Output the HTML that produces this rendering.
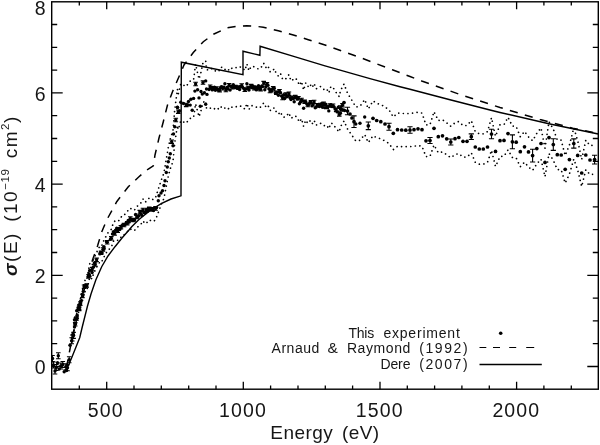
<!DOCTYPE html>
<html><head><meta charset="utf-8"><title>chart</title>
<style>
html,body{margin:0;padding:0;background:#fff}
body{width:600px;height:445px;position:relative;overflow:hidden;font-family:"Liberation Sans",sans-serif;color:#161616}
.t{position:absolute;font-size:19.5px;line-height:22px;white-space:nowrap;letter-spacing:1.1px}
.xl{text-align:center}
.yl{text-align:right}
.lg{position:absolute;font-size:14px;line-height:16px;white-space:nowrap}
.xt{position:absolute;left:225px;width:200px;text-align:center;top:421.5px;font-size:19px;line-height:22px;letter-spacing:0.45px;word-spacing:3px;white-space:nowrap}
.yt{position:absolute;left:0.2px;top:275.5px;height:22px;font-size:19px;line-height:22px;letter-spacing:1.5px;word-spacing:3.5px;white-space:nowrap;transform:rotate(-90deg);transform-origin:0 0}
.yt sup{font-size:11.5px;line-height:0;vertical-align:7.8px;letter-spacing:0.6px}
</style></head><body>
<svg width="600" height="445" viewBox="0 0 600 445" style="position:absolute;left:0;top:0"><rect x="0" y="0" width="600" height="445" fill="#fff"/><clipPath id="c"><rect x="51.7" y="1.8" width="546.5999999999999" height="387.4"/></clipPath><g clip-path="url(#c)"><path d="M71.7,338.9 L72.8,332.6 L73.6,333.3 L74.5,316.5 L75.2,321.3 L76.5,315.2 L77.0,312.0 L78.1,303.7 L79.2,304.9 L80.4,299.2 L80.7,296.5 L82.7,289.8 L83.2,286.3 L85.1,280.2 L86.7,279.8 L88.5,270.1 L89.7,263.7 L92.1,265.9 L93.3,260.2 L94.8,256.7 L96.6,252.4 L100.6,244.6 L102.1,245.1 L103.5,241.1 L104.1,240.3 L107.2,233.6 L111.3,229.3 L113.5,222.2 L115.6,220.6 L117.7,221.3 L119.8,219.9 L121.9,215.7 L124.0,215.1 L126.1,213.0 L128.2,210.3 L130.3,208.0 L132.5,210.1 L134.6,209.9 L136.7,206.6 L138.8,205.2 L140.9,202.9 L143.0,199.0 L145.1,202.3 L147.2,200.6 L149.3,197.8 L151.4,198.9 L153.5,199.7 L155.6,197.5 L158.3,189.2 L161.0,180.9 L164.0,172.8 L166.3,158.9 L168.3,147.4 L170.3,138.8 L173.0,130.4 L174.7,109.9 L177.4,89.2 L178.3,93.9 L180.8,83.7 L186.2,86.6 L188.5,82.9 L190.9,80.5 L193.6,79.6 L195.6,64.2 L199.0,79.1 L201.0,72.2 L203.0,62.7 L205.7,60.9 L206.5,69.6 L209.1,70.1 L211.2,68.7 L213.3,68.7 L215.4,70.9 L217.5,69.5 L219.6,70.9 L221.7,67.1 L223.8,67.8 L225.9,70.7 L228.0,69.5 L230.1,70.7 L232.2,67.7 L234.3,67.6 L236.4,67.6 L238.5,68.1 L240.6,66.9 L242.7,67.8 L244.8,70.5 L246.9,63.9 L249.0,70.8 L251.1,66.5 L253.2,66.4 L255.3,67.4 L257.4,68.7 L259.5,69.0 L261.6,66.7 L263.7,63.2 L265.8,67.5 L267.9,65.6 L270.0,71.7 L272.1,71.7 L274.2,68.7 L276.3,73.6 L278.4,76.2 L280.5,73.5 L282.6,79.2 L284.7,79.8 L286.8,77.8 L288.9,74.6 L291.0,80.9 L293.1,79.6 L295.2,78.0 L297.3,80.2 L299.4,85.3 L301.5,81.4 L303.6,90.1 L305.7,83.1 L307.8,86.7 L309.9,83.9 L312.0,87.7 L314.1,83.4 L316.2,88.9 L318.3,87.1 L320.4,86.5 L322.5,89.1 L324.6,89.5 L326.7,88.7 L328.8,93.0 L330.9,86.5 L333.0,87.4 L335.1,91.1 L337.2,94.0 L339.3,96.7 L340.5,90.4 L342.5,87.0 L344.0,84.0 L347.5,93.1 L352.0,100.6 L355.8,107.0 L360.0,106.3 L364.7,99.5 L368.3,109.0 L373.0,100.9 L376.7,103.3 L380.8,104.6 L385.0,107.0 L389.0,109.9 L393.3,117.0 L397.5,113.1 L401.7,113.4 L405.8,113.7 L410.0,113.4 L414.0,113.1 L418.0,112.2 L422.0,113.1 L426.0,125.0 L430.0,124.7 L434.0,111.6 L438.3,120.6 L442.5,119.7 L446.7,122.9 L450.8,126.3 L455.0,122.8 L458.8,121.5 L463.0,125.5 L467.0,125.5 L471.3,120.6 L475.3,131.6 L479.3,133.8 L483.3,133.8 L487.5,131.6 L491.5,117.7 L495.5,136.3 L500.0,124.9 L504.0,124.6 L508.0,117.3 L512.4,126.1 L516.2,126.5 L520.3,136.7 L524.5,131.4 L528.5,136.9 L532.6,140.8 L536.8,133.3 L541.0,127.9 L545.0,148.1 L549.0,121.6 L553.3,129.1 L557.3,139.9 L561.2,140.2 L565.2,155.5 L569.4,145.1 L573.8,127.9 L577.7,140.6 L581.7,159.5 L585.8,140.2 L590.0,145.5 L594.6,145.1" fill="none" stroke="#000" stroke-width="1.7" stroke-linecap="round" stroke-dasharray="0.01 4.6"/><path d="M71.7,342.5 L72.8,337.0 L73.6,337.6 L74.5,323.1 L75.2,327.2 L76.5,321.9 L77.0,319.1 L78.1,311.9 L79.2,312.9 L80.4,308.0 L80.7,305.6 L82.7,299.8 L83.2,296.8 L85.1,291.5 L86.7,291.1 L88.5,282.8 L89.7,277.1 L92.1,279.0 L93.3,274.2 L94.8,271.1 L96.6,267.3 L100.6,260.5 L102.1,261.0 L103.5,257.5 L104.1,256.8 L107.2,251.0 L111.3,247.3 L113.5,241.1 L115.6,239.7 L117.7,240.3 L119.8,239.1 L121.9,235.5 L124.0,234.9 L126.1,233.1 L128.2,230.7 L130.3,228.8 L132.5,230.6 L134.6,230.4 L136.7,227.5 L138.8,226.3 L140.9,224.3 L143.0,220.9 L145.1,223.8 L147.2,222.3 L149.3,219.9 L151.4,220.9 L153.5,221.5 L155.6,219.6 L158.3,212.4 L161.0,205.1 L164.0,198.2 L166.3,186.1 L168.3,176.0 L170.3,168.6 L173.0,161.2 L174.7,143.5 L177.4,125.4 L178.3,129.5 L180.8,120.7 L186.2,123.2 L188.5,120.0 L190.9,117.9 L193.6,117.2 L195.6,103.8 L199.0,116.7 L201.0,110.7 L203.0,102.5 L205.7,100.9 L206.5,108.4 L209.1,108.9 L211.2,107.7 L213.3,107.7 L215.4,109.6 L217.5,108.3 L219.6,109.6 L221.7,106.3 L223.8,106.9 L225.9,109.4 L228.0,108.4 L230.1,109.4 L232.2,106.8 L234.3,106.7 L236.4,106.7 L238.5,107.1 L240.6,106.1 L242.7,106.9 L244.8,109.2 L246.9,103.5 L249.0,109.5 L251.1,105.7 L253.2,105.7 L255.3,106.6 L257.4,107.6 L259.5,108.0 L261.6,105.9 L263.7,102.9 L265.8,106.7 L267.9,105.0 L270.0,110.3 L272.1,110.3 L274.2,107.7 L276.3,111.9 L278.4,114.2 L280.5,111.8 L282.6,116.8 L284.7,117.3 L286.8,115.6 L288.9,112.8 L291.0,118.3 L293.1,117.2 L295.2,115.8 L297.3,117.6 L299.4,122.1 L301.5,118.7 L303.6,126.3 L305.7,120.2 L307.8,123.3 L309.9,120.9 L312.0,124.2 L314.1,120.4 L316.2,125.2 L318.3,123.6 L320.4,123.2 L322.5,125.4 L324.6,125.7 L326.7,125.1 L328.8,128.8 L330.9,123.1 L333.0,123.9 L335.1,127.1 L337.2,129.7 L339.3,132.0 L340.5,126.6 L342.5,123.6 L344.0,121.0 L347.5,128.9 L352.0,135.4 L355.8,141.0 L360.0,140.3 L364.7,134.5 L368.3,142.6 L373.0,135.7 L376.7,137.7 L380.8,138.8 L385.0,141.0 L389.0,143.5 L393.3,149.6 L397.5,146.3 L401.7,146.6 L405.8,146.7 L410.0,146.6 L414.0,146.3 L418.0,145.4 L422.0,146.3 L426.0,156.6 L430.0,156.3 L434.0,145.0 L438.3,152.8 L442.5,151.9 L446.7,154.7 L450.8,157.7 L455.0,154.6 L458.8,153.5 L463.0,157.1 L467.0,157.1 L471.3,152.8 L475.3,162.4 L479.3,164.2 L483.3,164.2 L487.5,162.4 L491.5,150.3 L495.5,166.5 L500.0,156.5 L504.0,156.2 L508.0,149.9 L512.4,157.5 L516.2,157.9 L520.3,166.7 L524.5,162.2 L528.5,166.9 L532.6,170.4 L536.8,163.9 L541.0,159.1 L545.0,176.7 L549.0,153.6 L553.3,160.1 L557.3,169.5 L561.2,169.8 L565.2,183.1 L569.4,174.1 L573.8,159.1 L577.7,170.2 L581.7,186.5 L585.8,169.8 L590.0,174.5 L594.6,174.1" fill="none" stroke="#000" stroke-width="1.7" stroke-linecap="round" stroke-dasharray="0.01 4.6"/><path d="M66.7,366.5 L70.0,349.0 L73.3,332.7 L77.5,316.0 L82.0,298.0 L87.0,279.0 L92.5,260.0 L97.5,246.0 L101.7,232.0 L106.7,220.0 L116.7,201.7 L128.3,186.7 L140.0,175.8 L148.3,169.0 L153.3,165.8 L155.0,155.0 L159.0,138.0 L163.3,121.7 L167.5,105.0 L172.5,91.7 L178.3,78.3 L184.0,65.0 L193.3,52.5 L203.3,41.7 L214.0,34.0 L227.5,27.8 L237.0,26.2 L246.7,25.8 L255.0,26.2 L263.3,27.2 L278.3,30.8 L293.3,35.0 L308.3,39.7 L325.0,45.0 L360.0,57.5 L393.0,70.0 L410.0,76.5 L421.7,81.0 L460.0,94.5 L500.0,107.5 L540.0,119.5 L572.6,128.2 L598.3,133.6" fill="none" stroke="#000" stroke-width="1.5" stroke-dasharray="8.2 7.4" stroke-dashoffset="1.3"/><path d="M68.0,366.5 L72.0,357.0 L76.0,347.0 L79.7,337.7 L82.0,328.0 L85.0,316.0 L87.5,306.0 L91.0,294.0 L95.8,280.0 L101.7,266.7 L108.0,256.0 L115.0,246.7 L122.0,238.0 L129.0,230.0 L131.7,226.7 L139.0,219.5 L146.7,213.3 L154.0,208.0 L161.7,203.3 L171.0,199.0 L181.0,195.8 L181.3,62.2 L243.0,74.7 L243.0,51.2 L259.9,55.3 L260.1,46.3 L292.0,55.8 L325.0,65.8 L338.3,69.7 L370.0,78.6 L400.0,86.7 L410.0,89.2 L450.0,99.8 L490.0,110.0 L500.0,112.5 L550.0,124.0 L598.3,134.0" fill="none" stroke="#000" stroke-width="1.4" stroke-linejoin="miter"/><g fill="#000"><circle cx="72.3" cy="338.0" r="1.7"/><circle cx="73.2" cy="334.2" r="1.7"/><circle cx="72.8" cy="334.8" r="1.7"/><circle cx="73.6" cy="335.4" r="1.7"/><circle cx="74.5" cy="327.1" r="1.7"/><circle cx="75.0" cy="323.6" r="1.7"/><circle cx="75.2" cy="324.3" r="1.7"/><circle cx="75.4" cy="323.4" r="1.7"/><circle cx="77.0" cy="315.5" r="1.7"/><circle cx="76.5" cy="318.5" r="1.7"/><circle cx="74.5" cy="319.8" r="1.7"/><circle cx="77.2" cy="318.2" r="1.7"/><circle cx="79.2" cy="307.5" r="1.7"/><circle cx="76.7" cy="310.8" r="1.7"/><circle cx="78.1" cy="307.8" r="1.7"/><circle cx="79.2" cy="308.9" r="1.7"/><circle cx="79.6" cy="304.6" r="1.7"/><circle cx="80.5" cy="303.8" r="1.7"/><circle cx="80.4" cy="303.6" r="1.7"/><circle cx="80.7" cy="301.0" r="1.7"/><circle cx="82.7" cy="294.8" r="1.7"/><circle cx="82.4" cy="295.9" r="1.7"/><circle cx="83.2" cy="291.5" r="1.7"/><circle cx="82.8" cy="295.1" r="1.7"/><circle cx="84.1" cy="286.7" r="1.7"/><circle cx="85.1" cy="285.8" r="1.7"/><circle cx="86.0" cy="286.4" r="1.7"/><circle cx="86.7" cy="285.4" r="1.7"/><circle cx="89.8" cy="276.2" r="1.7"/><circle cx="89.0" cy="274.3" r="1.7"/><circle cx="88.4" cy="276.5" r="1.7"/><circle cx="88.5" cy="276.4" r="1.7"/><circle cx="93.3" cy="267.2" r="1.7"/><circle cx="92.2" cy="269.1" r="1.7"/><circle cx="89.7" cy="270.4" r="1.7"/><circle cx="92.1" cy="272.5" r="1.7"/><circle cx="96.6" cy="259.8" r="1.7"/><circle cx="94.6" cy="262.8" r="1.7"/><circle cx="94.8" cy="263.9" r="1.7"/><circle cx="95.1" cy="264.4" r="1.7"/><circle cx="100.6" cy="252.5" r="1.7"/><circle cx="102.1" cy="253.0" r="1.7"/><circle cx="101.1" cy="252.8" r="1.7"/><circle cx="99.8" cy="253.8" r="1.7"/><circle cx="103.5" cy="249.3" r="1.7"/><circle cx="103.0" cy="249.4" r="1.7"/><circle cx="103.9" cy="246.6" r="1.7"/><circle cx="104.1" cy="248.5" r="1.7"/><circle cx="111.3" cy="238.3" r="1.7"/><circle cx="110.5" cy="239.2" r="1.7"/><circle cx="106.6" cy="241.8" r="1.7"/><circle cx="107.2" cy="242.3" r="1.7"/><circle cx="112.5" cy="233.9" r="1.7"/><circle cx="113.5" cy="231.6" r="1.7"/><circle cx="114.6" cy="233.4" r="1.7"/><circle cx="115.6" cy="230.1" r="1.7"/><circle cx="116.7" cy="228.1" r="1.7"/><circle cx="117.7" cy="230.8" r="1.7"/><circle cx="118.8" cy="228.4" r="1.7"/><circle cx="119.8" cy="229.5" r="1.7"/><circle cx="120.9" cy="227.2" r="1.7"/><circle cx="121.9" cy="225.6" r="1.7"/><circle cx="123.0" cy="224.7" r="1.7"/><circle cx="124.0" cy="225.0" r="1.7"/><circle cx="125.1" cy="224.6" r="1.7"/><circle cx="126.1" cy="223.1" r="1.7"/><circle cx="127.2" cy="223.2" r="1.7"/><circle cx="128.2" cy="220.5" r="1.7"/><circle cx="129.3" cy="222.0" r="1.7"/><circle cx="130.3" cy="218.4" r="1.7"/><circle cx="131.4" cy="219.9" r="1.7"/><circle cx="132.5" cy="220.4" r="1.7"/><circle cx="133.5" cy="220.1" r="1.7"/><circle cx="134.6" cy="220.1" r="1.7"/><circle cx="135.6" cy="214.4" r="1.7"/><circle cx="136.7" cy="217.1" r="1.7"/><circle cx="137.7" cy="216.9" r="1.7"/><circle cx="138.8" cy="215.8" r="1.7"/><circle cx="139.8" cy="212.1" r="1.7"/><circle cx="140.9" cy="213.6" r="1.7"/><circle cx="141.9" cy="215.4" r="1.7"/><circle cx="143.0" cy="209.9" r="1.7"/><circle cx="144.0" cy="212.5" r="1.7"/><circle cx="145.1" cy="213.1" r="1.7"/><circle cx="146.1" cy="210.0" r="1.7"/><circle cx="147.2" cy="211.5" r="1.7"/><circle cx="148.2" cy="208.7" r="1.7"/><circle cx="149.3" cy="208.8" r="1.7"/><circle cx="150.3" cy="208.6" r="1.7"/><circle cx="151.4" cy="209.9" r="1.7"/><circle cx="152.4" cy="209.3" r="1.7"/><circle cx="153.5" cy="210.6" r="1.7"/><circle cx="154.5" cy="207.6" r="1.7"/><circle cx="155.6" cy="208.6" r="1.7"/><circle cx="156.6" cy="207.6" r="1.7"/><circle cx="209.1" cy="89.5" r="1.7"/><circle cx="210.2" cy="86.7" r="1.7"/><circle cx="211.2" cy="88.2" r="1.7"/><circle cx="212.3" cy="89.9" r="1.7"/><circle cx="213.3" cy="88.2" r="1.7"/><circle cx="214.4" cy="87.3" r="1.7"/><circle cx="215.4" cy="90.2" r="1.7"/><circle cx="216.5" cy="88.4" r="1.7"/><circle cx="217.5" cy="88.9" r="1.7"/><circle cx="218.6" cy="90.4" r="1.7"/><circle cx="219.6" cy="90.2" r="1.7"/><circle cx="220.7" cy="87.2" r="1.7"/><circle cx="221.7" cy="86.7" r="1.7"/><circle cx="222.8" cy="88.3" r="1.7"/><circle cx="223.8" cy="87.3" r="1.7"/><circle cx="224.9" cy="83.7" r="1.7"/><circle cx="225.9" cy="90.1" r="1.7"/><circle cx="227.0" cy="87.5" r="1.7"/><circle cx="228.0" cy="89.0" r="1.7"/><circle cx="229.1" cy="85.2" r="1.7"/><circle cx="230.1" cy="90.1" r="1.7"/><circle cx="231.2" cy="86.3" r="1.7"/><circle cx="232.2" cy="87.3" r="1.7"/><circle cx="233.3" cy="84.7" r="1.7"/><circle cx="234.3" cy="87.2" r="1.7"/><circle cx="235.4" cy="87.0" r="1.7"/><circle cx="236.4" cy="87.1" r="1.7"/><circle cx="237.5" cy="88.4" r="1.7"/><circle cx="238.5" cy="87.6" r="1.7"/><circle cx="239.6" cy="89.5" r="1.7"/><circle cx="240.6" cy="86.5" r="1.7"/><circle cx="241.7" cy="85.5" r="1.7"/><circle cx="242.7" cy="87.4" r="1.7"/><circle cx="243.8" cy="88.6" r="1.7"/><circle cx="244.8" cy="89.8" r="1.7"/><circle cx="245.9" cy="88.9" r="1.7"/><circle cx="246.9" cy="83.7" r="1.7"/><circle cx="248.0" cy="88.0" r="1.7"/><circle cx="249.0" cy="90.1" r="1.7"/><circle cx="250.1" cy="87.3" r="1.7"/><circle cx="251.1" cy="86.1" r="1.7"/><circle cx="252.2" cy="87.7" r="1.7"/><circle cx="253.2" cy="86.1" r="1.7"/><circle cx="254.3" cy="88.3" r="1.7"/><circle cx="255.3" cy="87.0" r="1.7"/><circle cx="256.4" cy="89.9" r="1.7"/><circle cx="257.4" cy="88.1" r="1.7"/><circle cx="258.5" cy="85.8" r="1.7"/><circle cx="259.5" cy="88.5" r="1.7"/><circle cx="260.6" cy="89.2" r="1.7"/><circle cx="261.6" cy="86.3" r="1.7"/><circle cx="262.7" cy="86.6" r="1.7"/><circle cx="263.7" cy="83.1" r="1.7"/><circle cx="264.8" cy="89.8" r="1.7"/><circle cx="265.8" cy="87.1" r="1.7"/><circle cx="266.9" cy="84.3" r="1.7"/><circle cx="267.9" cy="85.3" r="1.7"/><circle cx="269.0" cy="88.7" r="1.7"/><circle cx="270.0" cy="91.0" r="1.7"/><circle cx="271.1" cy="89.6" r="1.7"/><circle cx="272.1" cy="91.0" r="1.7"/><circle cx="273.2" cy="88.3" r="1.7"/><circle cx="274.2" cy="88.2" r="1.7"/><circle cx="275.3" cy="93.1" r="1.7"/><circle cx="276.3" cy="92.8" r="1.7"/><circle cx="277.4" cy="92.1" r="1.7"/><circle cx="278.4" cy="95.2" r="1.7"/><circle cx="279.5" cy="91.2" r="1.7"/><circle cx="280.5" cy="92.7" r="1.7"/><circle cx="281.6" cy="96.0" r="1.7"/><circle cx="282.6" cy="98.0" r="1.7"/><circle cx="283.7" cy="94.8" r="1.7"/><circle cx="284.7" cy="98.5" r="1.7"/><circle cx="285.8" cy="94.4" r="1.7"/><circle cx="286.8" cy="96.7" r="1.7"/><circle cx="287.9" cy="96.1" r="1.7"/><circle cx="288.9" cy="93.7" r="1.7"/><circle cx="290.0" cy="97.8" r="1.7"/><circle cx="291.0" cy="99.6" r="1.7"/><circle cx="292.1" cy="97.8" r="1.7"/><circle cx="293.1" cy="98.4" r="1.7"/><circle cx="294.2" cy="101.8" r="1.7"/><circle cx="295.2" cy="96.9" r="1.7"/><circle cx="296.3" cy="96.8" r="1.7"/><circle cx="297.3" cy="98.9" r="1.7"/><circle cx="298.4" cy="98.2" r="1.7"/><circle cx="299.4" cy="103.7" r="1.7"/><circle cx="300.5" cy="102.0" r="1.7"/><circle cx="301.5" cy="100.0" r="1.7"/><circle cx="302.6" cy="100.9" r="1.7"/><circle cx="303.6" cy="108.2" r="1.7"/><circle cx="304.7" cy="101.7" r="1.7"/><circle cx="305.7" cy="101.7" r="1.7"/><circle cx="306.8" cy="104.0" r="1.7"/><circle cx="307.8" cy="105.0" r="1.7"/><circle cx="308.9" cy="104.4" r="1.7"/><circle cx="309.9" cy="102.4" r="1.7"/><circle cx="311.0" cy="102.2" r="1.7"/><circle cx="312.0" cy="105.9" r="1.7"/><circle cx="313.1" cy="104.9" r="1.7"/><circle cx="314.1" cy="101.9" r="1.7"/><circle cx="315.2" cy="107.7" r="1.7"/><circle cx="316.2" cy="107.1" r="1.7"/><circle cx="317.3" cy="105.2" r="1.7"/><circle cx="318.3" cy="105.4" r="1.7"/><circle cx="319.4" cy="106.5" r="1.7"/><circle cx="320.4" cy="104.9" r="1.7"/><circle cx="321.5" cy="103.7" r="1.7"/><circle cx="322.5" cy="107.2" r="1.7"/><circle cx="323.6" cy="103.8" r="1.7"/><circle cx="324.6" cy="107.6" r="1.7"/><circle cx="325.7" cy="104.1" r="1.7"/><circle cx="326.7" cy="106.9" r="1.7"/><circle cx="327.8" cy="106.9" r="1.7"/><circle cx="328.8" cy="110.9" r="1.7"/><circle cx="329.9" cy="105.4" r="1.7"/><circle cx="330.9" cy="104.8" r="1.7"/><circle cx="332.0" cy="106.5" r="1.7"/><circle cx="333.0" cy="105.7" r="1.7"/><circle cx="334.1" cy="106.9" r="1.7"/><circle cx="335.1" cy="109.1" r="1.7"/><circle cx="336.2" cy="109.9" r="1.7"/><circle cx="337.2" cy="111.9" r="1.7"/><circle cx="338.3" cy="107.3" r="1.7"/><circle cx="339.3" cy="114.4" r="1.7"/><circle cx="340.4" cy="113.3" r="1.7"/><circle cx="341.4" cy="109.2" r="1.7"/><circle cx="342.5" cy="105.3" r="1.7"/><circle cx="343.5" cy="109.9" r="1.7"/><circle cx="344.6" cy="110.5" r="1.7"/><circle cx="53.5" cy="365.0" r="1.7"/><circle cx="56.3" cy="367.5" r="1.7"/><circle cx="59.2" cy="369.0" r="1.7"/><circle cx="62.8" cy="364.5" r="1.7"/><circle cx="66.6" cy="370.5" r="1.7"/><circle cx="158.3" cy="200.8" r="1.7"/><circle cx="159.0" cy="195.8" r="1.7"/><circle cx="161.0" cy="193.0" r="1.7"/><circle cx="162.5" cy="190.8" r="1.7"/><circle cx="164.0" cy="185.5" r="1.7"/><circle cx="165.0" cy="180.8" r="1.7"/><circle cx="166.3" cy="172.5" r="1.7"/><circle cx="167.3" cy="167.0" r="1.7"/><circle cx="168.3" cy="161.7" r="1.7"/><circle cx="170.3" cy="153.7" r="1.7"/><circle cx="173.0" cy="145.8" r="1.7"/><circle cx="171.7" cy="141.7" r="1.7"/><circle cx="173.5" cy="134.0" r="1.7"/><circle cx="174.7" cy="126.7" r="1.7"/><circle cx="175.8" cy="120.0" r="1.7"/><circle cx="178.3" cy="111.7" r="1.7"/><circle cx="177.5" cy="107.5" r="1.7"/><circle cx="169.3" cy="158.0" r="1.7"/><circle cx="52.5" cy="358.5" r="1.7"/><circle cx="58.3" cy="355.7" r="1.7"/><circle cx="55.0" cy="371.0" r="1.7"/><circle cx="57.5" cy="362.7" r="1.7"/><circle cx="60.8" cy="366.0" r="1.7"/><circle cx="64.2" cy="371.8" r="1.7"/><circle cx="65.8" cy="366.8" r="1.7"/><circle cx="67.5" cy="367.7" r="1.7"/><circle cx="69.2" cy="359.7" r="1.7"/><circle cx="70.0" cy="345.2" r="1.7"/><circle cx="71.7" cy="340.7" r="1.7"/><circle cx="180.8" cy="102.2" r="1.7"/><circle cx="177.4" cy="107.3" r="1.7"/><circle cx="179.4" cy="111.0" r="1.7"/><circle cx="186.2" cy="104.9" r="1.7"/><circle cx="190.2" cy="105.1" r="1.7"/><circle cx="190.9" cy="99.2" r="1.7"/><circle cx="193.6" cy="98.4" r="1.7"/><circle cx="199.0" cy="97.9" r="1.7"/><circle cx="202.3" cy="94.1" r="1.7"/><circle cx="204.4" cy="92.7" r="1.7"/><circle cx="207.0" cy="94.4" r="1.7"/><circle cx="194.9" cy="91.1" r="1.7"/><circle cx="197.6" cy="89.8" r="1.7"/><circle cx="195.6" cy="84.0" r="1.7"/><circle cx="203.0" cy="82.6" r="1.7"/><circle cx="205.7" cy="80.9" r="1.7"/><circle cx="200.3" cy="106.2" r="1.7"/><circle cx="205.7" cy="104.2" r="1.7"/><circle cx="192.2" cy="110.3" r="1.7"/><circle cx="187.5" cy="105.0" r="1.7"/><circle cx="183.5" cy="103.5" r="1.7"/><circle cx="188.5" cy="101.5" r="1.7"/><circle cx="206.5" cy="89.0" r="1.7"/><circle cx="201.0" cy="91.5" r="1.7"/><circle cx="355.8" cy="124.0" r="1.7"/><circle cx="360.0" cy="123.3" r="1.7"/><circle cx="364.7" cy="117.0" r="1.7"/><circle cx="340.5" cy="108.5" r="1.85"/><circle cx="344.0" cy="102.5" r="1.85"/><circle cx="347.5" cy="111.0" r="1.85"/><circle cx="350.0" cy="114.0" r="1.85"/><circle cx="352.0" cy="118.0" r="1.85"/><circle cx="354.0" cy="121.7" r="1.85"/><circle cx="368.3" cy="125.8" r="1.85"/><circle cx="373.0" cy="118.3" r="1.85"/><circle cx="376.7" cy="120.5" r="1.85"/><circle cx="380.8" cy="121.7" r="1.85"/><circle cx="385.0" cy="124.0" r="1.85"/><circle cx="389.0" cy="126.7" r="1.85"/><circle cx="393.3" cy="133.3" r="1.85"/><circle cx="397.5" cy="129.7" r="1.85"/><circle cx="401.7" cy="130.0" r="1.85"/><circle cx="405.8" cy="130.2" r="1.85"/><circle cx="410.0" cy="130.0" r="1.85"/><circle cx="414.0" cy="129.7" r="1.85"/><circle cx="418.0" cy="128.8" r="1.85"/><circle cx="422.0" cy="129.7" r="1.85"/><circle cx="426.0" cy="140.8" r="1.85"/><circle cx="430.0" cy="140.5" r="1.85"/><circle cx="434.0" cy="128.3" r="1.85"/><circle cx="438.3" cy="136.7" r="1.85"/><circle cx="442.5" cy="135.8" r="1.85"/><circle cx="446.7" cy="138.8" r="1.85"/><circle cx="450.8" cy="142.0" r="1.85"/><circle cx="455.0" cy="138.7" r="1.85"/><circle cx="458.8" cy="137.5" r="1.85"/><circle cx="463.0" cy="141.3" r="1.85"/><circle cx="467.0" cy="141.3" r="1.85"/><circle cx="471.3" cy="136.7" r="1.85"/><circle cx="475.3" cy="147.0" r="1.85"/><circle cx="479.3" cy="149.0" r="1.85"/><circle cx="483.3" cy="149.0" r="1.85"/><circle cx="487.5" cy="147.0" r="1.85"/><circle cx="491.5" cy="134.0" r="1.85"/><circle cx="495.5" cy="151.4" r="1.85"/><circle cx="500.0" cy="140.7" r="1.85"/><circle cx="504.0" cy="140.4" r="1.85"/><circle cx="508.0" cy="133.6" r="1.85"/><circle cx="512.4" cy="141.8" r="1.85"/><circle cx="516.2" cy="142.2" r="1.85"/><circle cx="520.3" cy="151.7" r="1.85"/><circle cx="524.5" cy="146.8" r="1.85"/><circle cx="528.5" cy="151.9" r="1.85"/><circle cx="532.6" cy="155.6" r="1.85"/><circle cx="536.8" cy="148.6" r="1.85"/><circle cx="541.0" cy="143.5" r="1.85"/><circle cx="545.0" cy="162.4" r="1.85"/><circle cx="549.0" cy="137.6" r="1.85"/><circle cx="553.3" cy="144.6" r="1.85"/><circle cx="557.3" cy="154.7" r="1.85"/><circle cx="561.2" cy="155.0" r="1.85"/><circle cx="565.2" cy="169.3" r="1.85"/><circle cx="569.4" cy="159.6" r="1.85"/><circle cx="573.8" cy="143.5" r="1.85"/><circle cx="577.7" cy="155.4" r="1.85"/><circle cx="581.7" cy="173.0" r="1.85"/><circle cx="585.8" cy="155.0" r="1.85"/><circle cx="590.0" cy="160.0" r="1.85"/><circle cx="594.6" cy="159.6" r="1.85"/></g><path d="M72.3,335.0V341.0M70.0,335.0h4.6M70.0,341.0h4.6M73.6,332.4V338.4M71.3,332.4h4.6M71.3,338.4h4.6M75.2,322.6V326.0M72.9,322.6h4.6M72.9,326.0h4.6M76.5,316.8V320.2M74.2,316.8h4.6M74.2,320.2h4.6M79.2,305.8V309.2M76.9,305.8h4.6M76.9,309.2h4.6M79.2,307.2V310.6M76.9,307.2h4.6M76.9,310.6h4.6M80.4,301.9V305.3M78.1,301.9h4.6M78.1,305.3h4.6M82.4,294.2V297.6M80.1,294.2h4.6M80.1,297.6h4.6M84.1,285.0V288.4M81.8,285.0h4.6M81.8,288.4h4.6M86.7,283.7V287.1M84.4,283.7h4.6M84.4,287.1h4.6M88.4,274.8V278.2M86.1,274.8h4.6M86.1,278.2h4.6M92.2,267.4V270.8M89.9,267.4h4.6M89.9,270.8h4.6M96.6,258.1V261.5M94.3,258.1h4.6M94.3,261.5h4.6M95.1,262.7V266.1M92.8,262.7h4.6M92.8,266.1h4.6M101.1,251.1V254.5M98.8,251.1h4.6M98.8,254.5h4.6M103.0,247.7V251.1M100.7,247.7h4.6M100.7,251.1h4.6M111.3,236.6V240.0M109.0,236.6h4.6M109.0,240.0h4.6M107.2,240.6V244.0M104.9,240.6h4.6M104.9,244.0h4.6M114.6,231.7V235.1M112.3,231.7h4.6M112.3,235.1h4.6M117.7,229.1V232.5M115.4,229.1h4.6M115.4,232.5h4.6M120.9,225.5V228.9M118.6,225.5h4.6M118.6,228.9h4.6M124.0,223.3V226.7M121.7,223.3h4.6M121.7,226.7h4.6M127.2,221.5V224.9M124.9,221.5h4.6M124.9,224.9h4.6M130.3,216.7V220.1M128.0,216.7h4.6M128.0,220.1h4.6M133.5,218.4V221.8M131.2,218.4h4.6M131.2,221.8h4.6M136.7,215.4V218.8M134.4,215.4h4.6M134.4,218.8h4.6M139.8,210.4V213.8M137.5,210.4h4.6M137.5,213.8h4.6M143.0,208.2V211.6M140.7,208.2h4.6M140.7,211.6h4.6M146.1,208.3V211.7M143.8,208.3h4.6M143.8,211.7h4.6M149.3,207.1V210.5M147.0,207.1h4.6M147.0,210.5h4.6M152.4,207.6V211.0M150.1,207.6h4.6M150.1,211.0h4.6M155.6,206.9V210.3M153.3,206.9h4.6M153.3,210.3h4.6M210.2,85.0V88.4M207.9,85.0h4.6M207.9,88.4h4.6M213.3,86.5V89.9M211.0,86.5h4.6M211.0,89.9h4.6M216.5,86.7V90.1M214.2,86.7h4.6M214.2,90.1h4.6M219.6,88.5V91.9M217.3,88.5h4.6M217.3,91.9h4.6M222.8,86.6V90.0M220.5,86.6h4.6M220.5,90.0h4.6M225.9,88.4V91.8M223.6,88.4h4.6M223.6,91.8h4.6M229.1,83.5V86.9M226.8,83.5h4.6M226.8,86.9h4.6M232.2,85.6V89.0M229.9,85.6h4.6M229.9,89.0h4.6M235.4,85.3V88.7M233.1,85.3h4.6M233.1,88.7h4.6M238.5,85.9V89.3M236.2,85.9h4.6M236.2,89.3h4.6M241.7,83.8V87.2M239.4,83.8h4.6M239.4,87.2h4.6M244.8,88.1V91.5M242.5,88.1h4.6M242.5,91.5h4.6M248.0,86.3V89.7M245.7,86.3h4.6M245.7,89.7h4.6M251.1,84.4V87.8M248.8,84.4h4.6M248.8,87.8h4.6M254.3,86.6V90.0M252.0,86.6h4.6M252.0,90.0h4.6M257.4,86.4V89.8M255.1,86.4h4.6M255.1,89.8h4.6M260.6,87.5V90.9M258.3,87.5h4.6M258.3,90.9h4.6M263.7,81.4V84.8M261.4,81.4h4.6M261.4,84.8h4.6M266.9,82.6V86.0M264.6,82.6h4.6M264.6,86.0h4.6M270.0,89.3V92.7M267.7,89.3h4.6M267.7,92.7h4.6M273.2,86.6V90.0M270.9,86.6h4.6M270.9,90.0h4.6M276.3,91.1V94.5M274.0,91.1h4.6M274.0,94.5h4.6M279.5,89.5V92.9M277.2,89.5h4.6M277.2,92.9h4.6M282.6,96.3V99.7M280.3,96.3h4.6M280.3,99.7h4.6M285.8,92.7V96.1M283.5,92.7h4.6M283.5,96.1h4.6M288.9,92.0V95.4M286.6,92.0h4.6M286.6,95.4h4.6M292.1,96.1V99.5M289.8,96.1h4.6M289.8,99.5h4.6M295.2,95.2V98.6M292.9,95.2h4.6M292.9,98.6h4.6M298.4,96.5V99.9M296.1,96.5h4.6M296.1,99.9h4.6M301.5,98.3V101.7M299.2,98.3h4.6M299.2,101.7h4.6M304.7,100.0V103.4M302.4,100.0h4.6M302.4,103.4h4.6M307.8,103.3V106.7M305.5,103.3h4.6M305.5,106.7h4.6M311.0,100.5V103.9M308.7,100.5h4.6M308.7,103.9h4.6M314.1,100.2V103.6M311.8,100.2h4.6M311.8,103.6h4.6M317.3,103.5V106.9M315.0,103.5h4.6M315.0,106.9h4.6M320.4,103.2V106.6M318.1,103.2h4.6M318.1,106.6h4.6M323.6,102.1V105.5M321.3,102.1h4.6M321.3,105.5h4.6M326.7,105.2V108.6M324.4,105.2h4.6M324.4,108.6h4.6M329.9,103.7V107.1M327.6,103.7h4.6M327.6,107.1h4.6M333.0,104.0V107.4M330.7,104.0h4.6M330.7,107.4h4.6M336.2,108.2V111.6M333.9,108.2h4.6M333.9,111.6h4.6M339.3,112.7V116.1M337.0,112.7h4.6M337.0,116.1h4.6M342.5,103.6V107.0M340.2,103.6h4.6M340.2,107.0h4.6M53.5,362.0V368.0M51.2,362.0h4.6M51.2,368.0h4.6M56.3,364.5V370.5M54.0,364.5h4.6M54.0,370.5h4.6M62.8,361.5V367.5M60.5,361.5h4.6M60.5,367.5h4.6M171.7,140.0V143.4M169.4,140.0h4.6M169.4,143.4h4.6M175.8,118.3V121.7M173.5,118.3h4.6M173.5,121.7h4.6M178.3,110.0V113.4M176.0,110.0h4.6M176.0,113.4h4.6M52.5,355.5V361.5M50.2,355.5h4.6M50.2,361.5h4.6M58.3,352.7V358.7M56.0,352.7h4.6M56.0,358.7h4.6M55.0,368.0V374.0M52.7,368.0h4.6M52.7,374.0h4.6M60.8,363.0V369.0M58.5,363.0h4.6M58.5,369.0h4.6M65.8,363.8V369.8M63.5,363.8h4.6M63.5,369.8h4.6M67.5,364.7V370.7M65.2,364.7h4.6M65.2,370.7h4.6M69.2,356.7V362.7M66.9,356.7h4.6M66.9,362.7h4.6M71.7,337.7V343.7M69.4,337.7h4.6M69.4,343.7h4.6M186.2,103.2V106.6M183.9,103.2h4.6M183.9,106.6h4.6M195.6,82.3V85.7M193.3,82.3h4.6M193.3,85.7h4.6M203.0,80.9V84.3M200.7,80.9h4.6M200.7,84.3h4.6M340.5,105.9V111.1M337.9,105.9h5.2M337.9,111.1h5.2M347.5,107.2V114.8M344.9,107.2h5.2M344.9,114.8h5.2M354.0,115.9V127.5M351.4,115.9h5.2M351.4,127.5h5.2M368.3,122.0V129.6M365.7,122.0h5.2M365.7,129.6h5.2M389.0,123.2V130.2M386.4,123.2h5.2M386.4,130.2h5.2M410.0,126.7V133.3M407.4,126.7h5.2M407.4,133.3h5.2M430.0,137.5V143.5M427.4,137.5h5.2M427.4,143.5h5.2M450.8,139.0V145.0M448.2,139.0h5.2M448.2,145.0h5.2M471.3,133.9V139.5M468.7,133.9h5.2M468.7,139.5h5.2M491.5,129.2V138.8M488.9,129.2h5.2M488.9,138.8h5.2M512.4,134.9V148.7M509.8,134.9h5.2M509.8,148.7h5.2M532.6,149.2V162.0M530.0,149.2h5.2M530.0,162.0h5.2M553.3,138.8V150.4M550.7,138.8h5.2M550.7,150.4h5.2M573.8,138.9V148.1M571.2,138.9h5.2M571.2,148.1h5.2M594.6,155.2V164.0M592.0,155.2h5.2M592.0,164.0h5.2" fill="none" stroke="#000" stroke-width="1.1"/></g><rect x="51.7" y="1.8" width="546.5999999999999" height="387.4" fill="none" stroke="#000" stroke-width="1.4"/><path d="M79.3,389.2v-3.8M79.3,1.8v3.8M106.7,389.2v-7.5M106.7,1.8v7.5M134.0,389.2v-3.8M134.0,1.8v3.8M161.3,389.2v-3.8M161.3,1.8v3.8M188.7,389.2v-3.8M188.7,1.8v3.8M216.0,389.2v-3.8M216.0,1.8v3.8M243.3,389.2v-7.5M243.3,1.8v7.5M270.6,389.2v-3.8M270.6,1.8v3.8M298.0,389.2v-3.8M298.0,1.8v3.8M325.3,389.2v-3.8M325.3,1.8v3.8M352.6,389.2v-3.8M352.6,1.8v3.8M380.0,389.2v-7.5M380.0,1.8v7.5M407.3,389.2v-3.8M407.3,1.8v3.8M434.6,389.2v-3.8M434.6,1.8v3.8M461.9,389.2v-3.8M461.9,1.8v3.8M489.3,389.2v-3.8M489.3,1.8v3.8M516.6,389.2v-7.5M516.6,1.8v7.5M543.9,389.2v-3.8M543.9,1.8v3.8M571.3,389.2v-3.8M571.3,1.8v3.8M51.7,366.5h11M598.3,366.5h-11M51.7,343.7h5.5M598.3,343.7h-5.5M51.7,320.9h5.5M598.3,320.9h-5.5M51.7,298.1h5.5M598.3,298.1h-5.5M51.7,275.3h11M598.3,275.3h-11M51.7,252.5h5.5M598.3,252.5h-5.5M51.7,229.7h5.5M598.3,229.7h-5.5M51.7,206.9h5.5M598.3,206.9h-5.5M51.7,184.1h11M598.3,184.1h-11M51.7,161.3h5.5M598.3,161.3h-5.5M51.7,138.5h5.5M598.3,138.5h-5.5M51.7,115.7h5.5M598.3,115.7h-5.5M51.7,92.9h11M598.3,92.9h-11M51.7,70.1h5.5M598.3,70.1h-5.5M51.7,47.3h5.5M598.3,47.3h-5.5M51.7,24.5h5.5M598.3,24.5h-5.5" fill="none" stroke="#000" stroke-width="1.3"/><circle cx="500.7" cy="333.3" r="1.8" fill="#000"/><path d="M479.5,347.5h6.8M493,347.5h7M509.2,347.5h7M526.2,347.5h8" stroke="#000" stroke-width="1.2" fill="none"/><path d="M479.5,364.5H541.8" stroke="#000" stroke-width="1.3" fill="none"/></svg>
<div style="position:absolute;left:0;top:0;width:600px;height:445px;will-change:transform">
<div class="t xl" style="left:65.7px;top:399px;width:80px">500</div><div class="t xl" style="left:203.0px;top:399px;width:80px">1000</div><div class="t xl" style="left:339.7px;top:399px;width:80px">1500</div><div class="t xl" style="left:476.3px;top:399px;width:80px">2000</div><div class="t yl" style="left:0;top:356.3px;width:46.8px">0</div><div class="t yl" style="left:0;top:265.1px;width:46.8px">2</div><div class="t yl" style="left:0;top:173.9px;width:46.8px">4</div><div class="t yl" style="left:0;top:82.7px;width:46.8px">6</div><div class="t yl" style="left:0;top:-3.3px;width:46.8px">8</div>
<span class="lg" style="left:348.4px;top:325.1px;letter-spacing:-0.2px">This</span><span class="lg" style="left:383.4px;top:325.1px;letter-spacing:0.8px">experiment</span><span class="lg" style="left:271.6px;top:340.1px;letter-spacing:0.5px">Arnaud</span><span class="lg" style="left:327.4px;top:340.1px;letter-spacing:0px"><span style="font-size:15.5px">&amp;</span></span><span class="lg" style="left:346.9px;top:340.1px;letter-spacing:0.6px">Raymond</span><span class="lg" style="left:419.2px;top:340.1px;letter-spacing:1.6px">(1992)</span><span class="lg" style="left:380.4px;top:356.1px;letter-spacing:-0.1px">Dere</span><span class="lg" style="left:419.2px;top:356.1px;letter-spacing:1.6px">(2007)</span>
<div class="xt">Energy (eV)</div></div>
<div class="yt"><i style="font-weight:bold">&sigma;</i>(E) (10<sup>&minus;19</sup> cm<sup>2</sup>)</div>
</body></html>
